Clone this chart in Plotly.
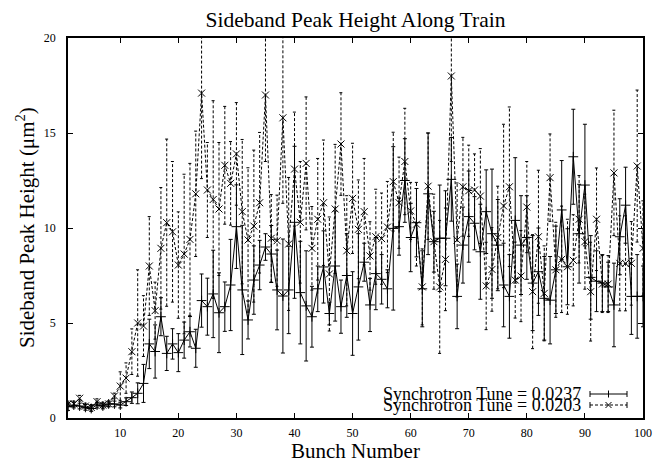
import plotly.graph_objects as go

bunch = list(range(1, 101))

tune_0237 = [0.60, 0.68, 0.63, 0.56, 0.50, 0.68, 0.63, 0.74, 0.74, 0.68,
             0.86, 1.07, 1.30, 1.82, 3.90, 3.50, 5.33, 3.40, 3.90, 3.44,
             4.10, 4.54, 3.67, 6.18, 5.86, 6.53, 5.54, 5.86, 7.00, 10.07,
             6.74, 5.16, 7.26, 8.05, 9.00, 8.63, 6.74, 6.42, 6.74, 10.30,
             6.60, 5.90, 5.33, 6.80, 7.95, 5.50, 8.00, 5.86, 7.50, 5.50,
             6.90, 8.20, 5.95, 7.60, 7.30, 6.80, 9.98, 10.07, 12.50, 9.50,
             10.28, 6.80, 11.80, 9.28, 9.46, 9.46, 12.56, 6.40, 9.10, 10.60,
             10.25, 8.75, 10.86, 9.70, 9.10, 7.00, 6.40, 10.40, 9.10, 9.50,
             7.10, 7.70, 6.30, 6.20, 7.80, 10.95, 7.96, 13.75, 9.70, 12.26,
             7.40, 7.20, 7.10, 6.90, 5.95, 9.54, 11.20, 6.40, 6.40, 6.40]

err_0237 = [0.20, 0.15, 0.15, 0.15, 0.15, 0.15, 0.15, 0.15, 0.15, 0.15,
            0.20, 0.30, 0.55, 1.00, 1.30, 1.40, 1.00, 0.90, 0.80, 1.00,
            0.95, 0.80, 1.00, 1.40, 1.50, 2.30, 2.10, 1.30, 2.40, 2.20,
            3.40, 1.00, 1.80, 1.30, 0.70, 1.50, 2.10, 3.00, 2.30, 4.00,
            2.70, 2.90, 1.60, 1.20, 1.90, 0.60, 2.90, 1.40, 2.20, 2.20,
            2.80, 1.00, 1.40, 1.90, 1.30, 1.00, 4.30, 1.50, 2.20, 1.80,
            1.80, 2.00, 3.20, 1.60, 2.80, 2.50, 2.20, 1.70, 2.00, 2.40,
            1.40, 2.50, 2.20, 3.40, 2.40, 2.20, 2.20, 3.30, 2.60, 2.20,
            2.50, 2.30, 2.20, 2.30, 2.30, 2.60, 2.00, 2.50, 2.60, 3.20,
            2.20, 1.60, 1.50, 1.30, 2.20, 2.00, 2.00, 2.00, 2.20, 1.60]

tune_0203 = [0.74, 0.74, 1.04, 0.63, 0.56, 0.86, 0.68, 0.74, 1.16, 1.68,
             2.10, 3.49, 5.00, 4.84, 8.00, 5.65, 8.93, 10.28, 9.80, 8.05,
             8.63, 9.40, 11.80, 17.10, 12.00, 11.50, 11.00, 13.30, 12.35, 13.90,
             10.86, 9.37, 10.10, 11.33, 17.00, 9.46, 9.33, 15.80, 9.16, 13.10,
             10.30, 13.40, 8.93, 10.46, 11.33, 7.58, 11.00, 14.42, 8.80, 11.56,
             9.93, 10.86, 8.53, 9.54, 9.44, 10.05, 12.44, 11.33, 13.50, 10.90,
             10.20, 6.90, 12.20, 9.28, 6.90, 8.35, 18.00, 9.37, 12.17, 11.96,
             12.00, 11.68, 6.95, 7.82, 9.50, 11.16, 12.17, 7.26, 7.47, 11.10,
             6.65, 9.54, 6.56, 12.65, 7.80, 8.35, 7.96, 8.30, 10.46, 9.28,
             6.65, 10.46, 7.05, 7.05, 12.90, 8.14, 8.14, 8.14, 13.26, 8.93]

err_0203 = [0.15, 0.15, 0.15, 0.15, 0.15, 0.15, 0.15, 0.15, 0.15, 0.75,
            0.80, 1.20, 2.80, 1.60, 2.60, 1.50, 3.20, 4.40, 3.70, 2.80,
            4.20, 4.00, 3.30, 4.50, 2.50, 5.20, 3.50, 3.10, 2.20, 2.70,
            3.80, 3.80, 4.00, 3.70, 3.50, 2.30, 2.40, 4.50, 3.50, 3.00,
            3.20, 3.50, 2.20, 3.20, 3.30, 3.00, 3.40, 2.70, 2.90, 2.90,
            2.60, 2.80, 1.80, 2.50, 2.40, 2.40, 2.60, 2.40, 2.80, 1.50,
            2.20, 2.00, 2.80, 2.50, 3.50, 2.70, 4.50, 3.00, 2.60, 2.40,
            1.90, 2.50, 2.30, 2.20, 2.70, 4.30, 4.20, 2.00, 2.40, 2.40,
            3.00, 3.50, 2.50, 2.30, 2.50, 2.80, 2.50, 2.40, 2.30, 2.50,
            2.60, 2.70, 1.50, 1.50, 3.30, 2.50, 2.50, 2.20, 4.00, 2.50]

x_ticks = [10, 20, 30, 40, 50, 60, 70, 80, 90, 100]
y_ticks = [0, 5, 10, 15, 20]

title_text = "Sideband Peak Height Along Train"
x_title = "Bunch Number"
y_title = "Sideband Peak Height (μm<sup>2</sup>)"
legend_names = ["Synchrotron Tune = 0.0237", "Synchrotron Tune = 0.0203"]

FONT = "Liberation Serif, Times New Roman, serif"
DASH = "3px,2px"
CAP = 0.28

fig = go.Figure()

# dashed error bars for the 0.0203 series (gnuplot draws them dashed)
ex, ey = [], []
for b, v, e in zip(bunch, tune_0203, err_0203):
    ex += [b, b, None, b - CAP, b + CAP, None, b - CAP, b + CAP, None]
    ey += [v - e, v + e, None, v - e, v - e, None, v + e, v + e, None]
fig.add_trace(go.Scatter(x=ex, y=ey, mode="lines",
                         line=dict(color="black", width=1, dash=DASH),
                         hoverinfo="skip", showlegend=False))

fig.add_trace(go.Scatter(x=bunch, y=tune_0203, mode="lines+markers",
                         name=legend_names[1],
                         line=dict(color="black", width=1, dash=DASH),
                         marker=dict(symbol="x-thin-open", size=7,
                                     line=dict(color="black", width=1)),
                         showlegend=False))

fig.add_trace(go.Scatter(x=bunch, y=tune_0237, mode="lines+markers",
                         name=legend_names[0],
                         line=dict(color="black", width=1),
                         marker=dict(symbol="cross-thin-open", size=7,
                                     line=dict(color="black", width=1)),
                         error_y=dict(type="data", array=err_0237, visible=True,
                                      color="black", thickness=1, width=2),
                         showlegend=False))

# manual gnuplot-style key (text on the left, sample on the right)
def px(xp):
    return (xp - 68) / 575.0

def py(yp):
    return (418 - yp) / 380.0

rows = [394, 405]
for i, yy in enumerate(rows):
    fig.add_annotation(x=px(583), y=py(yy), xref="paper", yref="paper",
                       text=legend_names[i], showarrow=False,
                       xanchor="right", yanchor="middle",
                       font=dict(family=FONT, size=18, color="black"))
    dash = "solid" if i == 0 else DASH
    fig.add_shape(type="line", xref="paper", yref="paper",
                  x0=px(590), x1=px(627), y0=py(yy), y1=py(yy),
                  line=dict(color="black", width=1, dash=dash))
    for xe in (590, 627):
        fig.add_shape(type="line", xref="paper", yref="paper",
                      x0=px(xe), x1=px(xe), y0=py(yy - 3), y1=py(yy + 3),
                      line=dict(color="black", width=1))
    xm = 608.5
    if i == 0:
        fig.add_shape(type="line", xref="paper", yref="paper",
                      x0=px(xm), x1=px(xm), y0=py(yy - 3.5), y1=py(yy + 3.5),
                      line=dict(color="black", width=1))
    else:
        fig.add_shape(type="line", xref="paper", yref="paper",
                      x0=px(xm - 3), x1=px(xm + 3), y0=py(yy - 3), y1=py(yy + 3),
                      line=dict(color="black", width=1))
        fig.add_shape(type="line", xref="paper", yref="paper",
                      x0=px(xm - 3), x1=px(xm + 3), y0=py(yy + 3), y1=py(yy - 3),
                      line=dict(color="black", width=1))

fig.add_annotation(x=0.5, y=py(451), xref="paper", yref="paper",
                   text=x_title, showarrow=False, xanchor="center",
                   yanchor="middle", font=dict(family=FONT, size=21, color="black"))
fig.add_annotation(x=px(25), y=0.5, xref="paper", yref="paper",
                   text=y_title, showarrow=False, textangle=-90,
                   xanchor="center", yanchor="middle",
                   font=dict(family=FONT, size=21, color="black"))

axis_common = dict(showline=True, linecolor="black", linewidth=1.5,
                   mirror="ticks", ticks="inside", ticklen=5, tickwidth=1,
                   tickcolor="black", showgrid=False, zeroline=False,
                   tickfont=dict(family=FONT, size=12, color="black"))

fig.update_layout(
    width=667, height=462,
    margin=dict(l=68, r=24, t=38, b=44),
    paper_bgcolor="white", plot_bgcolor="white",
    title=dict(text=title_text, x=0.5, xref="paper", xanchor="center",
               y=1 - 19 / 462, yref="container", yanchor="middle",
               font=dict(family=FONT, size=21.5, color="black")),
    xaxis=dict(range=[1, 100], tickvals=x_ticks, ticklabelstandoff=3,
               **axis_common),
    yaxis=dict(range=[0, 20], tickvals=y_ticks, ticklabelstandoff=8,
               **axis_common),
    showlegend=False,
)

fig.write_html(
    "out.html",
    config={"displayModeBar": False},
    post_script="document.body.style.margin='0';document.body.style.padding='0';"
                "document.body.style.overflow='hidden';",
)
